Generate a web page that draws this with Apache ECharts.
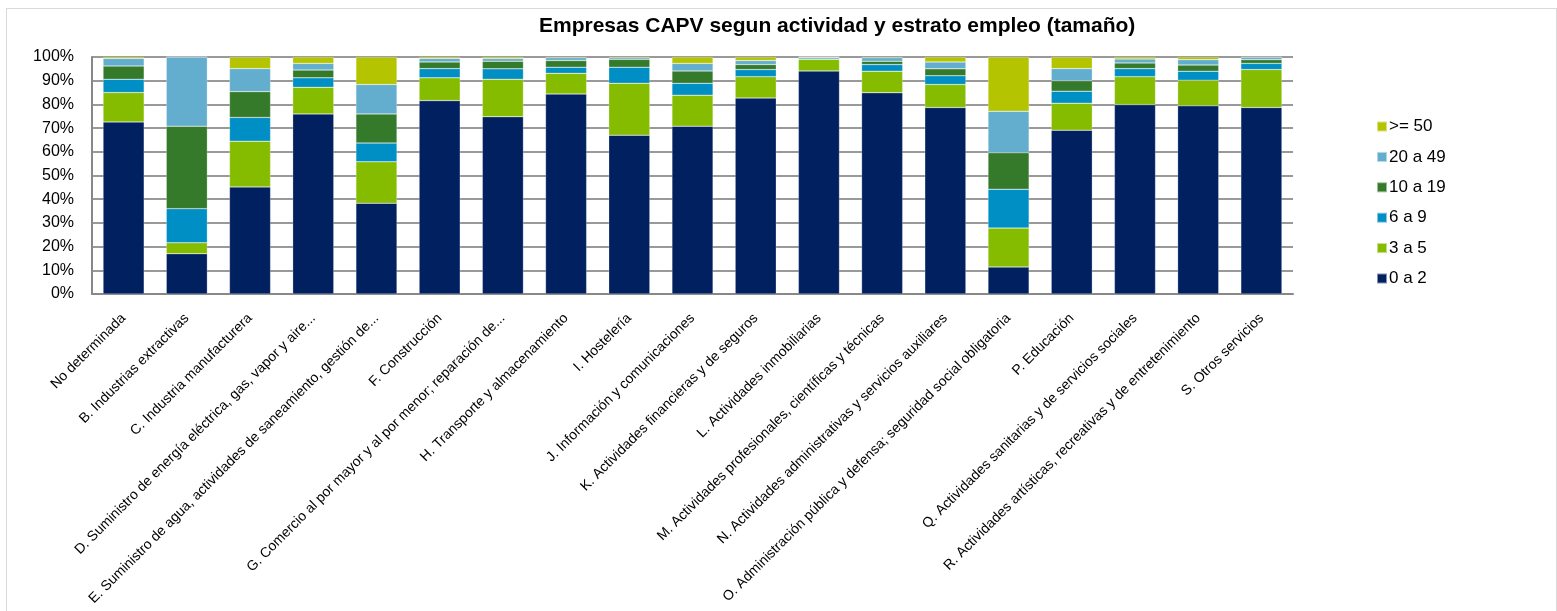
<!DOCTYPE html>
<html>
<head>
<meta charset="utf-8">
<script src="https://cdn.jsdelivr.net/npm/echarts@6/dist/echarts.min.js"></script>
<style>
  html, body { margin: 0; padding: 0; background: #fff; overflow: hidden; }
  #chart { width: 1557px; height: 611px; }
  #frame { position: absolute; left: 6px; top: 8px; width: 1549px; height: 620px; border: 1px solid #d9d9d9; pointer-events: none; }
</style>
</head>
<body>
<div id="chart"></div>
<div id="frame"></div>
<script>
const categories = [
  'No determinada',
  'B. Industrias extractivas',
  'C. Industria manufacturera',
  'D. Suministro de energía eléctrica, gas, vapor y aire...',
  'E. Suministro de agua, actividades de saneamiento, gestión de...',
  'F. Construcción',
  'G. Comercio al por mayor y al por menor; reparación de...',
  'H. Transporte y almacenamiento',
  'I. Hostelería',
  'J. Información y comunicaciones',
  'K. Actividades financieras y de seguros',
  'L. Actividades inmobiliarias',
  'M. Actividades profesionales, científicas y técnicas',
  'N. Actividades administrativas y servicios auxiliares',
  'O. Administración pública y defensa; seguridad social obligatoria',
  'P. Educación',
  'Q. Actividades sanitarias y de servicios sociales',
  'R. Actividades artísticas, recreativas y de entretenimiento',
  'S. Otros servicios'
];

// shares in % per size band
const s0a2   = [72.6, 17.0, 45.2, 76.0, 38.3, 81.6, 74.8, 84.4, 67.0, 70.8, 82.7, 94.1, 84.9, 78.7, 11.4, 69.1, 79.9, 79.4, 78.7];
const s3a5   = [12.4,  4.6, 19.3, 11.2, 17.5,  9.6, 15.8,  8.7, 21.9, 13.1,  9.0,  4.9,  9.1,  9.7, 16.4, 11.4, 11.8, 10.8, 16.0];
const s6a9   = [ 5.6, 14.4, 10.0,  4.0,  7.9,  3.9,  4.4,  2.6,  6.8,  5.0,  3.0,  0.6,  2.8,  3.7, 16.4,  5.1,  3.4,  3.8,  2.6];
const s10a19 = [ 5.6, 34.8, 10.9,  3.3, 12.3,  2.8,  3.2,  2.8,  3.3,  5.2,  2.1,  0.2,  1.4,  2.9, 15.4,  4.4,  2.4,  2.6,  1.6];
const s20a49 = [ 3.2, 29.2,  9.7,  2.8, 12.4,  1.5,  1.2,  1.2,  0.7,  3.2,  1.7,  0.2,  1.5,  2.9, 17.5,  5.1,  1.7,  2.3,  1.0];
const s50    = [ 0.6,  0.0,  4.9,  2.7, 11.6,  0.6,  0.6,  0.3,  0.3,  2.7,  1.5,  0.0,  0.3,  2.1, 22.9,  4.9,  0.8,  1.1,  0.1];

const seriesNames = ['0 a 2', '3 a 5', '6 a 9', '10 a 19', '20 a 49', '>= 50'];
const seriesData = [s0a2, s3a5, s6a9, s10a19, s20a49, s50];
const colors = ['#002060', '#86bc00', '#008fc5', '#357a2a', '#63aece', '#b5c400'];
const yTicks = [0, 10, 20, 30, 40, 50, 60, 70, 80, 90, 100];

const chart = echarts.init(document.getElementById('chart'));
const font = '"Liberation Sans", Arial, sans-serif';

chart.setOption({
  animation: false,
  textStyle: { fontFamily: font },
  title: {
    text: 'Empresas CAPV segun actividad y estrato empleo (tamaño)',
    left: 534,
    top: 11,
    textStyle: { fontSize: 21, fontWeight: 'bold', color: '#000', fontFamily: font }
  },
  legend: {
    data: seriesNames.slice().reverse(),
    orient: 'vertical',
    left: 1371,
    top: 113,
    itemWidth: 10,
    itemHeight: 10,
    itemGap: 13.4,
    icon: 'rect',
    textStyle: { fontSize: 17, color: '#000', fontFamily: font, padding: [0, 0, 0, -3] }
  },
  grid: { left: 92, right: 264, top: 57, bottom: 317 },
  xAxis: {
    type: 'category',
    data: categories,
    axisLine: { show: true, lineStyle: { color: '#888', width: 2 } },
    axisTick: { show: false },
    axisLabel: {
      rotate: 45,
      interval: 0,
      fontSize: 14,
      color: '#000',
      margin: 22,
      fontFamily: font
    }
  },
  yAxis: {
    type: 'value',
    min: 0,
    max: 100,
    interval: 10,
    axisLine: { show: true, lineStyle: { color: '#888', width: 2 } },
    axisTick: { show: false },
    splitLine: { lineStyle: { color: '#999', width: 2 } },
    axisLabel: {
      fontSize: 16,
      color: '#000',
      margin: 18,
      fontFamily: font,
      formatter: v => yTicks.includes(v) ? v + '%' : ''
    }
  },
  series: seriesNames.map((name, i) => ({
    name: name,
    type: 'bar',
    stack: 'total',
    barCategoryGap: '35%',
    data: seriesData[i],
    itemStyle: { color: colors[i], borderColor: 'rgba(255,255,255,0.5)', borderWidth: 0.5 }
  }))
});
</script>
</body>
</html>
